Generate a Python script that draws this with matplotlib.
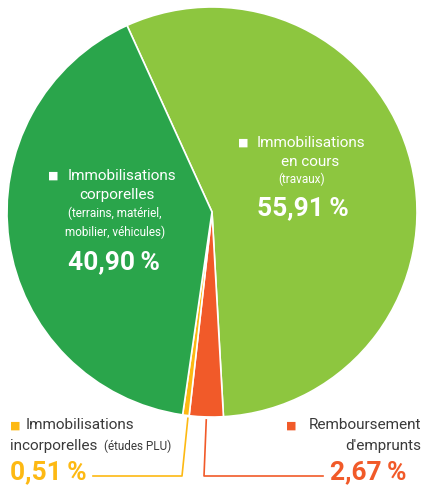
import numpy as np
import matplotlib
matplotlib.use("Agg")
import matplotlib.pyplot as plt

# data
categories = ["Immobilisations en cours", "Remboursement d'emprunts",
              "Immobilisations incorporelles", "Immobilisations corporelles"]
values = [55.91, 2.67, 0.51, 40.90]
colors = ["#8DC63F", "#F15A29", "#FDB913", "#2AA54B"]
pct_labels = ["55,91\u2009%", "2,67\u2009%", "0,51\u2009%", "40,90\u2009%"]

W, H = 421, 486
fig = plt.figure(figsize=(W / 100, H / 100), dpi=100)
fam = ["Roboto", "DejaVu Sans"]
grey = "#3a3a3a"

# pie: centre (212, 212), radius 205 px
cx, cy, r = 212, 212, 205
ax = fig.add_axes([(cx - r) / W, (H - cy - r) / H, 2 * r / W, 2 * r / H])
start = 114.5
wedges, _ = ax.pie(values, colors=colors, startangle=start, counterclock=False,
                   radius=1, wedgeprops=dict(edgecolor="white", linewidth=1.2))
ax.set_xlim(-1, 1)
ax.set_ylim(-1, 1)
ax.axis("off")


def px(x, y):
    return x / W, 1 - y / H


def txt(x, y, s, size, color="white", weight="normal", ha="center"):
    fig.text(*px(x, y), s, fontsize=size, color=color, weight=weight,
             ha=ha, va="center", family=fam)


# light green label
txt(243, 143, "\u25a0", 8)
txt(311, 143, "Immobilisations", 11)
txt(310, 162, "en cours", 11)
txt(302, 179, "(travaux)", 8.5)
txt(303, 208, pct_labels[0], 19, weight="bold")

# dark green label
txt(53, 176, "\u25a0", 8)
txt(122, 176, "Immobilisations", 11)
txt(117, 195, "corporelles", 11)
txt(115, 213, "(terrains, matériel,", 8.5)
txt(115, 232, "mobilier, véhicules)", 8.5)
txt(114, 262, pct_labels[3], 19, weight="bold")

# bottom left (yellow)
txt(10, 426, "\u25a0", 8, color=colors[2], ha="left")
txt(26, 425, "Immobilisations", 11, color=grey, ha="left")
txt(10, 446, "incorporelles", 11, color=grey, ha="left")
txt(104, 446, "(études PLU)", 8.5, color=grey, ha="left")
txt(10, 472, pct_labels[2], 19, color=colors[2], weight="bold", ha="left")

# bottom right (red)
txt(286, 426, "\u25a0", 8, color=colors[1], ha="left")
txt(421, 425, "Remboursement", 11, color=grey, ha="right")
txt(421, 446, "d'emprunts", 11, color=grey, ha="right")
txt(406, 472, pct_labels[1], 19, color=colors[1], weight="bold", ha="right")


# connector lines from the small wedges
def wedge_mid(i):
    w = wedges[i]
    a = np.deg2rad((w.theta1 + w.theta2) / 2)
    return cx + r * np.cos(a), cy - r * np.sin(a)


lx = fig.add_axes([0, 0, 1, 1])
lx.set_xlim(0, W)
lx.set_ylim(H, 0)
lx.axis("off")
x0, y0 = wedge_mid(2)
lx.plot([x0 + 2, 182, 93], [y0 + 3, 476, 476], color=colors[2], lw=1.2)
x0, y0 = wedge_mid(1)
lx.plot([x0, 204, 323], [y0 + 3, 476, 476], color=colors[1], lw=1.2)

fig.savefig("out.png", dpi=100)
